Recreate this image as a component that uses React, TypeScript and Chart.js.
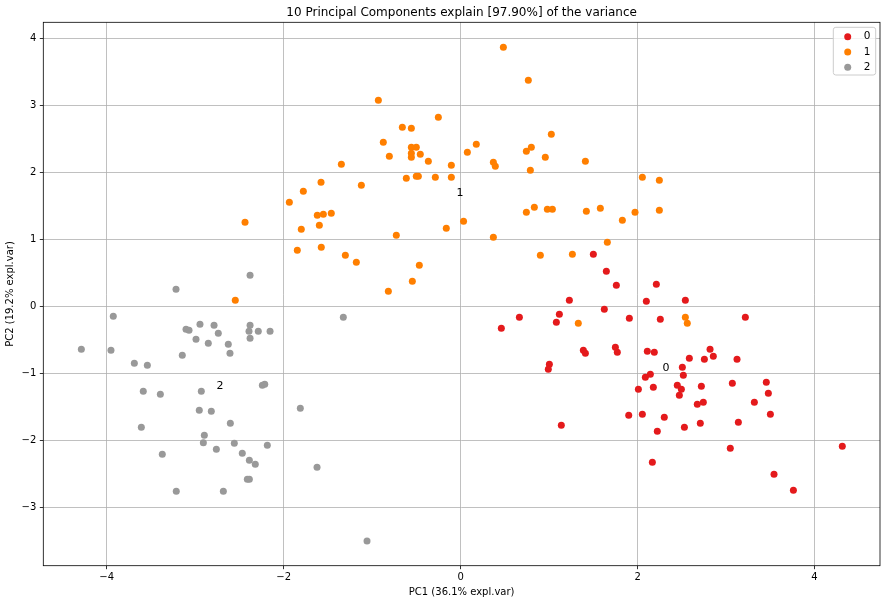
import React, { useEffect, useRef } from "react";
import { Chart, registerables } from "chart.js";

Chart.register(...registerables);

const titleText = "10 Principal Components explain [97.90%] of the variance";
const xTitle = "PC1 (36.1% expl.var)";
const yTitle = "PC2 (19.2% expl.var)";

const classNames = ["0", "1", "2"];
const classColors = ["#e41a1c", "#ff7f00", "#999999"];

const class0X = [1.5, 1.647, 1.76, 2.212, 1.229, 2.099, 2.54, 1.624, 0.664, 1.116, 1.082, 1.907, 2.257, 0.46, 1.387, 1.41, 1.749, 1.771, 2.11, 2.189, 1.003, 0.991, 2.819, 2.856, 2.755, 2.585, 2.506, 2.517, 2.144, 2.088, 2.009, 2.178, 2.449, 2.495, 2.472, 2.721, 3.218, 3.124, 3.071, 3.455, 3.478, 2.675, 2.743, 3.32, 3.501, 1.9, 2.054, 2.302, 2.223, 2.529, 2.709, 3.139, 3.048, 4.314, 2.167, 3.542, 3.761, 1.138];
const class0Y = [0.776, 0.522, 0.313, 0.328, 0.09, 0.075, 0.09, -0.045, -0.164, -0.119, -0.239, -0.179, -0.194, -0.328, -0.657, -0.701, -0.612, -0.687, -0.672, -0.687, -0.866, -0.94, -0.642, -0.746, -0.791, -0.776, -0.91, -1.03, -1.015, -1.06, -1.239, -1.209, -1.179, -1.239, -1.328, -1.194, -0.164, -0.791, -1.149, -1.134, -1.299, -1.463, -1.433, -1.433, -1.612, -1.627, -1.612, -1.657, -1.866, -1.806, -1.746, -1.731, -2.119, -2.09, -2.328, -2.507, -2.746, -1.776];

const class1X = [0.483, -0.93, -0.252, -0.659, -0.557, -0.874, -0.557, -0.501, -0.557, -0.557, -0.456, -0.806, -0.365, -1.348, -0.105, 0.076, 0.177, 0.37, 0.392, -0.614, -0.501, -0.478, -0.286, -0.105, -1.578, -1.122, -1.778, -1.936, -1.62, -1.552, -1.462, 0.033, -2.437, -1.597, -1.801, -0.727, -0.162, 0.37, -1.846, -1.575, -1.303, -1.179, -0.467, -0.546, -0.817, -2.547, 0.765, 1.025, 0.743, 0.799, 0.957, 0.788, 1.41, 2.054, 2.246, 0.743, 0.833, 0.98, 1.037, 1.421, 1.579, 1.971, 2.246, 1.828, 1.658, 0.901, 1.263, 1.33, 2.54, 2.562];
const class1Y = [3.866, 3.075, 2.821, 2.672, 2.657, 2.448, 2.373, 2.373, 2.284, 2.224, 2.269, 2.239, 2.164, 2.119, 2.104, 2.299, 2.418, 2.149, 2.09, 1.91, 1.94, 1.94, 1.925, 1.925, 1.851, 1.806, 1.716, 1.552, 1.358, 1.373, 1.388, 1.269, 1.254, 1.209, 1.149, 1.06, 1.164, 1.03, 0.836, 0.881, 0.761, 0.657, 0.612, 0.373, 0.224, 0.09, 3.373, 2.567, 2.313, 2.373, 2.224, 2.03, 2.164, 1.925, 1.881, 1.403, 1.478, 1.448, 1.448, 1.418, 1.463, 1.403, 1.433, 1.284, 0.955, 0.761, 0.776, -0.254, -0.164, -0.254];

const class2X = [-2.38, -3.217, -3.926, -3.104, -3.07, -2.946, -2.787, -2.739, -2.991, -2.852, -2.626, -2.607, -2.38, -2.392, -2.287, -2.154, -2.38, -4.287, -3.952, -3.146, -3.688, -3.541, -3.587, -3.394, -2.931, -2.241, -2.214, -2.954, -2.818, -1.812, -3.609, -2.603, -2.897, -2.908, -2.558, -2.185, -3.372, -2.761, -2.468, -2.388, -2.321, -1.623, -2.411, -2.388, -3.214, -2.682, -1.326, -1.058];
const class2Y = [0.463, 0.254, -0.149, -0.343, -0.358, -0.269, -0.284, -0.403, -0.493, -0.552, -0.567, -0.701, -0.284, -0.373, -0.373, -0.373, -0.478, -0.642, -0.657, -0.731, -0.851, -0.881, -1.269, -1.313, -1.269, -1.179, -1.164, -1.552, -1.567, -1.522, -1.806, -1.746, -1.925, -2.036, -2.045, -2.075, -2.209, -2.134, -2.194, -2.299, -2.358, -2.403, -2.582, -2.582, -2.761, -2.761, -0.164, -3.503];

const centroidX = [2.322, -0.007, -2.72];
const centroidY = [-0.925, 1.691, -1.19];

const xTicks = [-4, -2, 0, 2, 4];
const yTicks = [-3, -2, -1, 0, 1, 2, 3, 4];
const xRange = [-4.717, 4.74];
const yRange = [-3.872, 4.239];

const FONT = "'DejaVu Sans', sans-serif";

const fmt = (v: number) => (v < 0 ? "\u2212" + Math.abs(v) : String(v));

function pts(xs: number[], ys: number[]) {
  return xs.map((x, i) => ({ x, y: ys[i] }));
}

const overlay = {
  id: "overlay",
  afterDatasetsDraw(chart: any) {
    const { ctx, scales } = chart;
    ctx.save();
    ctx.fillStyle = "#000";
    ctx.font = `11px ${FONT}`;
    ctx.textAlign = "center";
    ctx.textBaseline = "middle";
    classNames.forEach((n, i) => {
      ctx.fillText(n, scales.x.getPixelForValue(centroidX[i]), scales.y.getPixelForValue(centroidY[i]));
    });
    ctx.restore();
  },
  afterDraw(chart: any) {
    const { ctx, chartArea: a } = chart;
    ctx.save();
    // frame
    ctx.strokeStyle = "#000";
    ctx.lineWidth = 0.8;
    ctx.strokeRect(a.left, a.top, a.right - a.left, a.bottom - a.top);
    // title
    ctx.fillStyle = "#000";
    ctx.font = `12px ${FONT}`;
    ctx.textAlign = "center";
    ctx.textBaseline = "middle";
    ctx.fillText(titleText, (a.left + a.right) / 2, 12.5);
    // legend
    const bw = 42.4;
    const bh = 47.7;
    const bx = a.right - 4.3 - bw;
    const by = a.top + 5;
    const r = 2.5;
    ctx.beginPath();
    ctx.moveTo(bx + r, by);
    ctx.lineTo(bx + bw - r, by);
    ctx.arcTo(bx + bw, by, bx + bw, by + r, r);
    ctx.lineTo(bx + bw, by + bh - r);
    ctx.arcTo(bx + bw, by + bh, bx + bw - r, by + bh, r);
    ctx.lineTo(bx + r, by + bh);
    ctx.arcTo(bx, by + bh, bx, by + bh - r, r);
    ctx.lineTo(bx, by + r);
    ctx.arcTo(bx, by, bx + r, by, r);
    ctx.closePath();
    ctx.fillStyle = "rgba(255,255,255,0.8)";
    ctx.fill();
    ctx.strokeStyle = "#cccccc";
    ctx.lineWidth = 1;
    ctx.stroke();
    ctx.font = `10.5px ${FONT}`;
    ctx.textAlign = "left";
    classNames.forEach((n, i) => {
      const yy = by + 9.4 + i * 15.3;
      ctx.beginPath();
      ctx.arc(bx + 14.4, yy, 3.5, 0, Math.PI * 2);
      ctx.fillStyle = classColors[i];
      ctx.fill();
      ctx.fillStyle = "#000";
      ctx.fillText(n, bx + 30.5, yy);
    });
    ctx.restore();
  },
};

export default function App() {
  const ref = useRef<HTMLCanvasElement | null>(null);
  useEffect(() => {
    document.body.style.margin = "0";
    const canvas = ref.current;
    if (!canvas) return;
    const series = [pts(class0X, class0Y), pts(class1X, class1Y), pts(class2X, class2Y)];
    const chart = new Chart(canvas, {
      type: "scatter",
      data: {
        datasets: series.map((d, i) => ({
          label: classNames[i],
          data: d,
          backgroundColor: classColors[i],
          borderWidth: 0,
          pointRadius: 3.5,
          order: 2 - i,
        })),
      },
      options: {
        responsive: false,
        animation: false,
        devicePixelRatio: 1,
        events: [],
        layout: { padding: { top: 22.3, right: 7, left: 0, bottom: 0 } },
        plugins: { legend: { display: false }, tooltip: { enabled: false }, title: { display: false } },
        scales: {
          x: {
            type: "linear",
            min: xRange[0],
            max: xRange[1],
            afterBuildTicks: (s: any) => {
              s.ticks = xTicks.map((v) => ({ value: v }));
            },
            afterFit: (s: any) => {
              s.height = 38.3;
            },
            grid: { color: "#b0b0b0", lineWidth: 0.8, tickColor: "#000", tickLength: 3.5, tickWidth: 0.8 },
            border: { display: false },
            ticks: { color: "#000", font: { family: FONT, size: 10 }, padding: 2.5, maxRotation: 0, callback: (v: any) => fmt(Number(v)) },
            title: { display: true, text: xTitle, color: "#000", font: { family: FONT, size: 10 }, padding: { top: 0, bottom: 6 } },
          },
          y: {
            type: "linear",
            min: yRange[0],
            max: yRange[1],
            afterBuildTicks: (s: any) => {
              s.ticks = yTicks.map((v) => ({ value: v }));
            },
            afterFit: (s: any) => {
              s.width = 43.3;
            },
            grid: { color: "#b0b0b0", lineWidth: 0.8, tickColor: "#000", tickLength: 3.5, tickWidth: 0.8 },
            border: { display: false },
            ticks: { color: "#000", font: { family: FONT, size: 10 }, padding: 3.5, callback: (v: any) => fmt(Number(v)) },
            title: { display: true, text: yTitle, color: "#000", font: { family: FONT, size: 10 }, padding: { top: 4, bottom: 0 } },
          },
        },
      },
      plugins: [overlay],
    });
    return () => chart.destroy();
  }, []);
  return (
    <div style={{ width: 887, height: 604, position: "relative", background: "#fff" }}>
      <canvas ref={ref} width={887} height={604} style={{ display: "block", width: 887, height: 604 }} />
    </div>
  );
}
